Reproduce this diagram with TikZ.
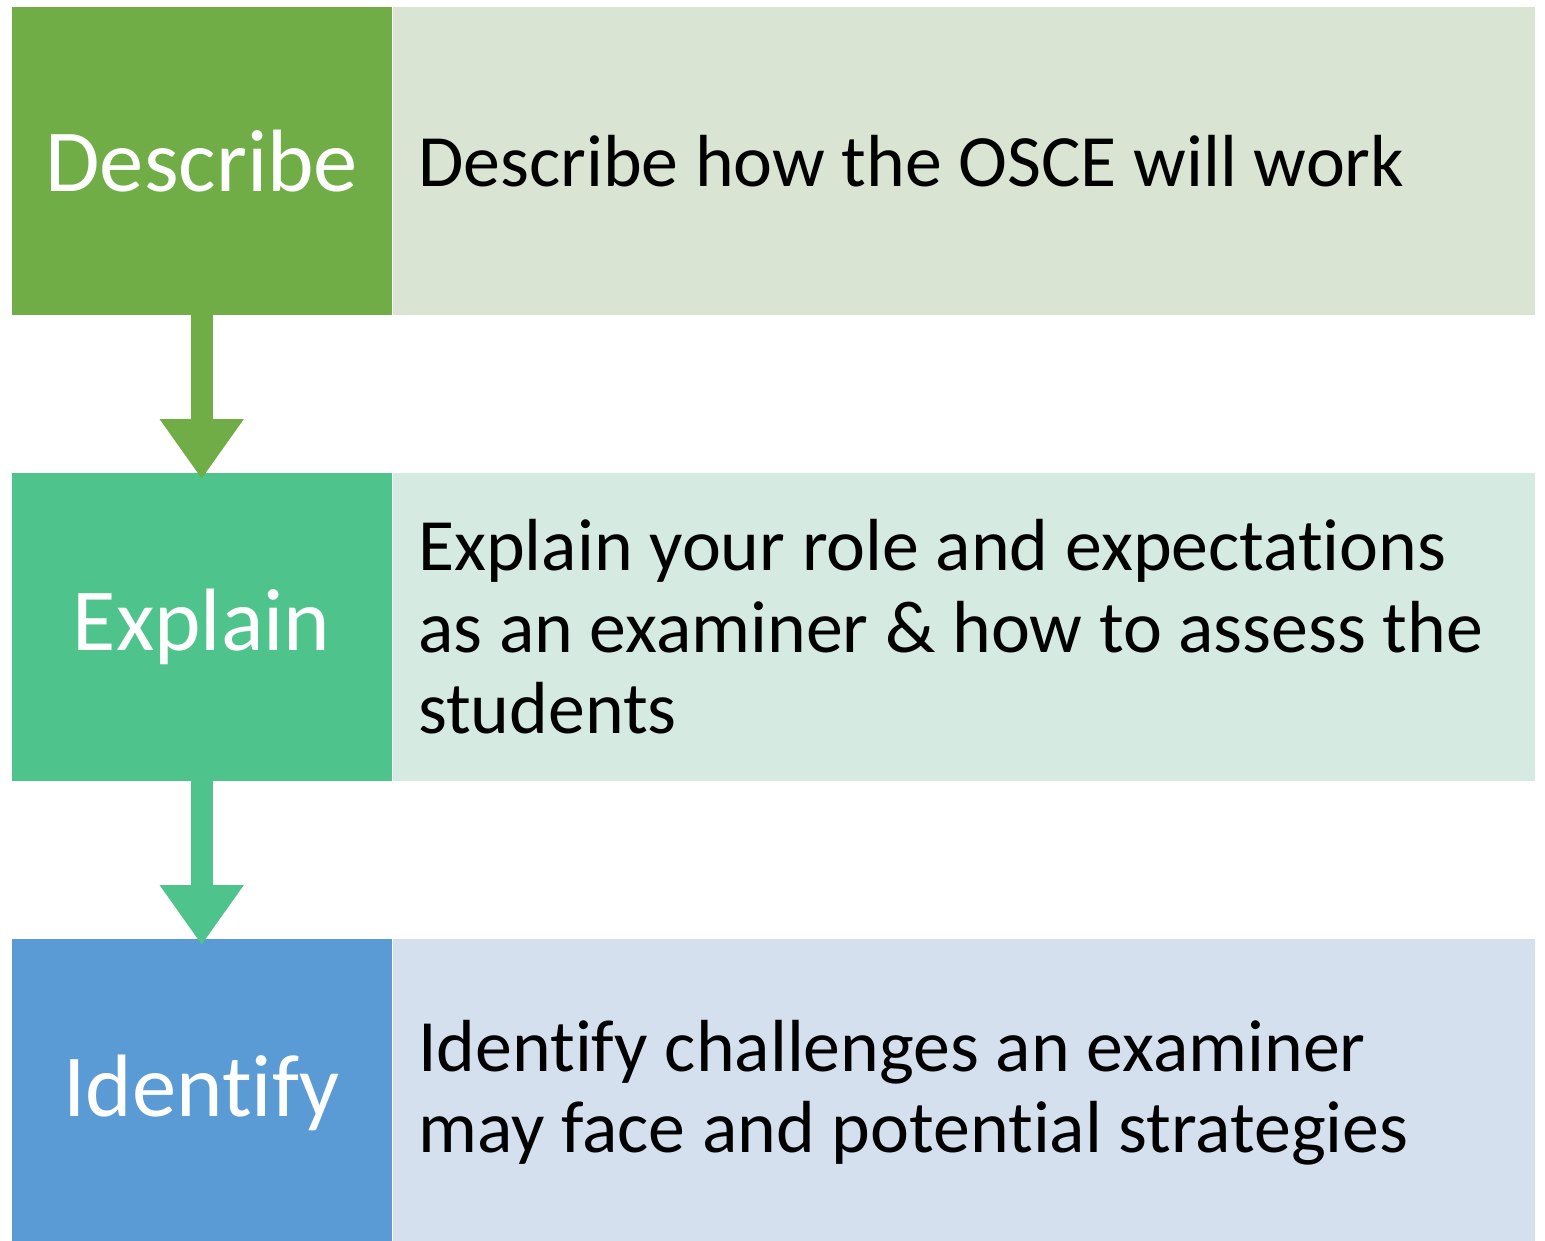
\documentclass[tikz,border=0pt]{standalone}
\usepackage{fontspec}
\setmainfont{Carlito}[RawFeature=-liga]
\usepackage{xcolor}
\usetikzlibrary{arrows.meta,positioning}
\definecolor{describegreen}{RGB}{112,173,71}
\definecolor{describelight}{RGB}{217,228,211}
\definecolor{explaingreen}{RGB}{78,196,140}
\definecolor{explainlight}{RGB}{213,235,226}
\definecolor{identifyblue}{RGB}{91,155,213}
\definecolor{identifylight}{RGB}{213,224,238}

\begin{document}
\begin{tikzpicture}[
        stage/.style={
            rectangle,
            minimum width=3.8cm,
            minimum height=3.08cm,
            inner sep=0pt,
            text centered,
            text=white,
            font=\fontsize{25.2}{29}\selectfont,
            anchor=north west
        },
        detail/.style={
            rectangle,
            minimum width=11.42cm,
            minimum height=3.08cm,
            inner xsep=0.25cm,
            inner ysep=0pt,
            text width=10.92cm,
            align=flush left,
            text=black,
            font=\fontsize{21}{23.3}\selectfont,
            anchor=west
        },
        flow/.style={
            line width=0.22cm,
            -{Triangle[width=0.8cm,length=0.6cm]}
        }
    ]

    \useasboundingbox (0,0) rectangle (15.45,-12.40);

    % Stages down the left column
    \node[stage, fill=describegreen] (describe) at (0.11,-0.06) {Describe};
    \node[stage, fill=explaingreen] (explain) at (0.11,-4.72) {Explain};
    \node[stage, fill=identifyblue] (identify) at (0.11,-9.38) {Identify};

    % Details to the right of each stage
    \node[detail, fill=describelight, right=0cm of describe] (describetext) {Describe how the OSCE will work};
    \node[detail, fill=explainlight, right=0cm of explain] (explaintext) {Explain your role and expectations\\as an examiner \& how to assess the\\students};
    \node[detail, fill=identifylight, right=0cm of identify] (identifytext) {Identify challenges an examiner\\may face and potential strategies};

    % Arrows between stages
    \draw[flow, describegreen] (describe.south) -- ([yshift=-0.07cm]explain.north);
    \draw[flow, explaingreen] (explain.south) -- ([yshift=-0.07cm]identify.north);

    \end{tikzpicture}
\end{document}
